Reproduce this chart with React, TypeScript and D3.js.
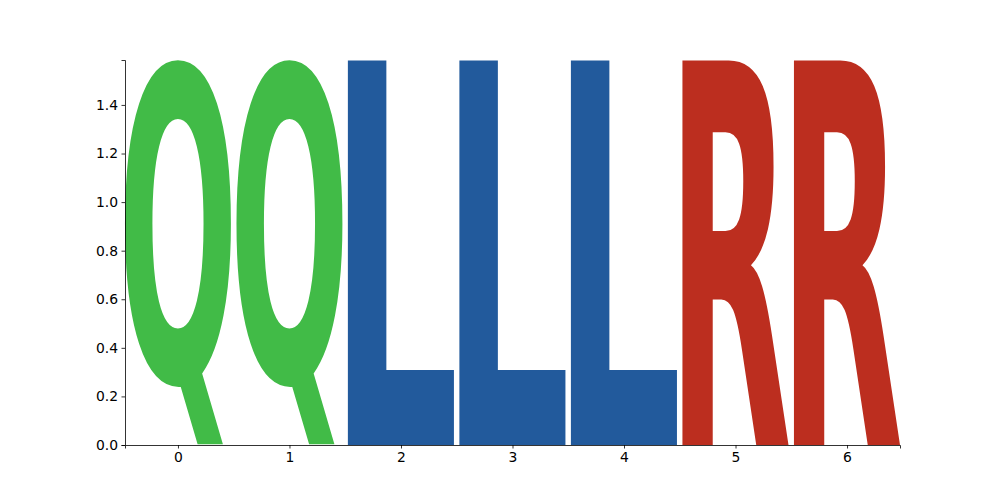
import React, { useRef, useEffect } from 'react';
import * as d3 from 'd3';

// sequence logo: one character per position, stacked to the information height
const positions = [0, 1, 2, 3, 4, 5, 6];
const letters = ['Q', 'Q', 'L', 'L', 'L', 'R', 'R'];
const heights = [1.585, 1.585, 1.585, 1.585, 1.585, 1.585, 1.585];
const yTicks = [0.0, 0.2, 0.4, 0.6, 0.8, 1.0, 1.2, 1.4];
const letterColors: Record<string, string> = { Q: '#41bb47', L: '#225a9c', R: '#bc2e1f' };

const W = 1000;
const H = 500;
const margin = { top: 60, right: 100, bottom: 55, left: 125 };
const FONT = "'DejaVu Sans', sans-serif";
const letterWidth = 0.95;
const GLYPH_PX = 400;

// ink bounds of a glyph relative to its origin, found by scanning canvas pixels
function glyphBounds(ch: string) {
    const size = GLYPH_PX * 2;
    const ox = GLYPH_PX / 2;
    const oy = GLYPH_PX * 1.4;
    const canvas = document.createElement('canvas');
    canvas.width = size;
    canvas.height = size;
    const ctx = canvas.getContext('2d')!;
    ctx.font = `bold ${GLYPH_PX}px ${FONT}`;
    ctx.fillStyle = '#000';
    ctx.fillText(ch, ox, oy);
    const data = ctx.getImageData(0, 0, size, size).data;
    let minX = size, maxX = -1, minY = size, maxY = -1;
    for (let py = 0; py < size; py++) {
        for (let px = 0; px < size; px++) {
            if (data[(py * size + px) * 4 + 3] >= 128) {
                if (px < minX) minX = px;
                if (px > maxX) maxX = px;
                if (py < minY) minY = py;
                if (py > maxY) maxY = py;
            }
        }
    }
    return { left: minX - ox, right: maxX + 1 - ox, top: minY - oy, bottom: maxY + 1 - oy };
}

export default function App() {
    const svgRef = useRef<SVGSVGElement | null>(null);

    useEffect(() => {
        if (!svgRef.current) return;
        const svg = d3.select(svgRef.current);
        svg.selectAll('*').remove();

        const x = d3.scaleLinear()
            .domain([-letterWidth / 2, 6 + letterWidth / 2])
            .range([margin.left, W - margin.right]);
        const y = d3.scaleLinear().domain([0, 1.585]).range([H - margin.bottom, margin.top]);

        const cache: Record<string, ReturnType<typeof glyphBounds>> = {};
        const g = svg.append('g');
        letters.forEach((ch, i) => {
            const b = cache[ch] || (cache[ch] = glyphBounds(ch));
            const x0 = x(positions[i] - letterWidth / 2);
            const x1 = x(positions[i] + letterWidth / 2);
            const yTop = y(heights[i]);
            const yBot = y(0);
            const sx = (x1 - x0) / (b.right - b.left);
            const sy = (yBot - yTop) / (b.bottom - b.top);
            g.append('text')
                .attr('transform', `translate(${x0},${yTop}) scale(${sx},${sy}) translate(${-b.left},${-b.top})`)
                .attr('font-family', FONT)
                .attr('font-weight', 'bold')
                .attr('font-size', GLYPH_PX)
                .attr('fill', letterColors[ch])
                .text(ch);
        });

        const xAxis = svg.append('g')
            .attr('transform', `translate(0,${H - margin.bottom})`)
            .call(d3.axisBottom(x).tickValues(positions).tickFormat(d3.format('d')).tickSizeOuter(0).tickSize(3.5).tickPadding(3.5));
        const yAxis = svg.append('g')
            .attr('transform', `translate(${margin.left},0)`)
            .call(d3.axisLeft(y).tickValues(yTicks).tickFormat(d3.format('.1f')).tickSizeOuter(0).tickSize(3.5).tickPadding(3.5));

        [xAxis, yAxis].forEach(ax => {
            ax.selectAll('text').attr('font-family', FONT).attr('font-size', 13.9).attr('fill', '#000');
            ax.selectAll('line').attr('stroke', '#000').attr('stroke-width', 0.8);
            ax.select('.domain').attr('stroke', '#000').attr('stroke-width', 0.8);
        });
    }, []);

    return (
        <div style={{ position: 'absolute', left: 0, top: 0, background: '#fff' }}>
            <svg ref={svgRef} width={W} height={H}></svg>
        </div>
    );
}
